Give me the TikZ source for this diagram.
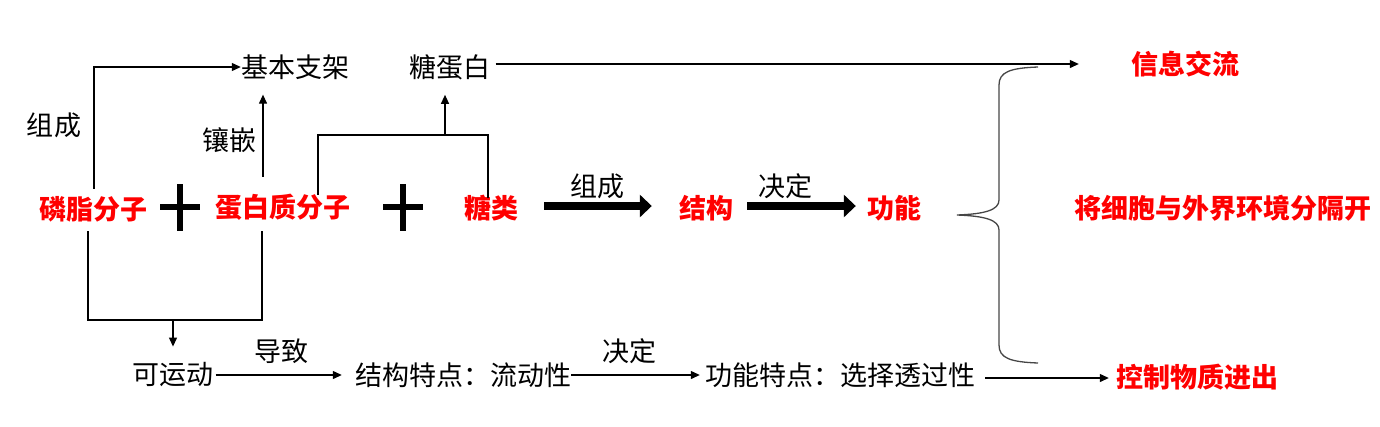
\documentclass[tikz,border=0pt]{standalone}
\usepackage{fontspec}
\setmainfont{Noto Sans CJK SC}
\usetikzlibrary{arrows.meta,calc}
\definecolor{myred}{RGB}{255,0,0}
\definecolor{bracegray}{RGB}{70,70,70}
\begin{document}
\begin{tikzpicture}[x=1pt,y=-1pt,
  blk/.style={font=\fontsize{27}{30}\selectfont, inner sep=0pt, text=black},
  redt/.style={font=\fontsize{27}{30}\selectfont\bfseries, inner sep=0pt, text=myred},
  thinln/.style={line width=1.2pt, black},
  arr/.style={thinln, -{Triangle[length=9pt,width=8pt]}},
  bigarr/.style={line width=8pt, -{Triangle[length=12pt,width=22pt]}},
  plusln/.style={line width=6pt, black}]
\useasboundingbox (0,0) rectangle (1380,426);
% nodes
\node[blk] (jb) at (295,67) {基本支架};
\node[blk] (tdb) at (450,67) {糖蛋白};
\node[redt] (xx) at (1185,64) {信息交流};
\node[redt] (gl) at (1223,208) {将细胞与外界环境分隔开};
\node[redt] (kz) at (1197,377) {控制物质进出};
\node[blk] (zc1) at (54,125) {组成};
\node[blk] (xq) at (229,140) {镶嵌};
\node[redt] (lz) at (93,209) {磷脂分子};
\node[redt] (dbz) at (283,207) {蛋白质分子};
\node[redt] (tl) at (491,208) {糖类};
\node[redt] (jg) at (706,208) {结构};
\node[redt] (gn) at (894,208) {功能};
\node[blk] (zc2) at (597,186) {组成};
\node[blk] (jd1) at (785,186) {决定};
\node[blk] (kyd) at (173,375) {可运动};
\node[blk] (jgtd) at (463,375) {结构特点：流动性};
\node[blk] (gntd) at (840,375) {功能特点：选择透过性};
\node[blk] (dz) at (281,351) {导致};
\node[blk] (jd2) at (629,351) {决定};
% plus signs
\draw[plusln] (160,207) -- (200,207) (180,184) -- (180,231);
\draw[plusln] (383,207) -- (423,207) (403,184) -- (403,231);
% 组成 -> 基本支架
\draw[arr] ([xshift=1pt,yshift=7pt]lz.north) |- (jb.west);
% 镶嵌
\draw[arr] ([xshift=-20pt,yshift=17pt]dbz.north) -- ([xshift=-32pt,yshift=-15pt]jb.south);
% 糖蛋白 bracket
\coordinate (tb) at (445,135);
\draw[thinln] ([xshift=35pt,yshift=-1pt]dbz.north) |- (tb) -| ([xshift=-3pt,yshift=-3pt]tl.north);
\draw[arr] (tb) -- ([xshift=-5pt,yshift=-15pt]tdb.south);
% 糖蛋白 -> 信息交流
\draw[arr] ([xshift=5pt,yshift=3pt]tdb.east) -- ([xshift=-52pt]xx.west);
% thick arrows
\draw[bigarr] ([xshift=26pt,yshift=2pt]tl.east) -- ([xshift=-27pt,yshift=2pt]jg.west);
\draw[bigarr] ([xshift=14pt,yshift=2pt]jg.east) -- ([xshift=-11pt,yshift=2pt]gn.west);
% bottom bracket
\coordinate (bb) at (173,320);
\draw[thinln] ([xshift=-5pt,yshift=-9pt]lz.south) |- (bb) -| ([xshift=-21pt,yshift=-11pt]dbz.south);
\draw[arr] (bb) -- ([yshift=16pt]kyd.north);
% bottom chain
\draw[arr] ([xshift=2pt]kyd.east) -- ([xshift=-13pt]jgtd.west);
\draw[arr] (jgtd.east) -- ([xshift=-5pt]gntd.west);
\draw[arr] ([xshift=10pt,yshift=-3pt]gntd.east) -- ([xshift=-7pt,yshift=-1pt]kz.west);
% brace
\draw[line width=1.3pt, bracegray]
  (1038,67) .. controls (1010,68) and (999,72) .. (999,85) -- (999,200)
  .. controls (999,210) and (985,214) .. (957,215)
  .. controls (985,216) and (999,220) .. (999,230) -- (999,345)
  .. controls (999,358) and (1010,362) .. (1038,363);
\end{tikzpicture}
\end{document}
